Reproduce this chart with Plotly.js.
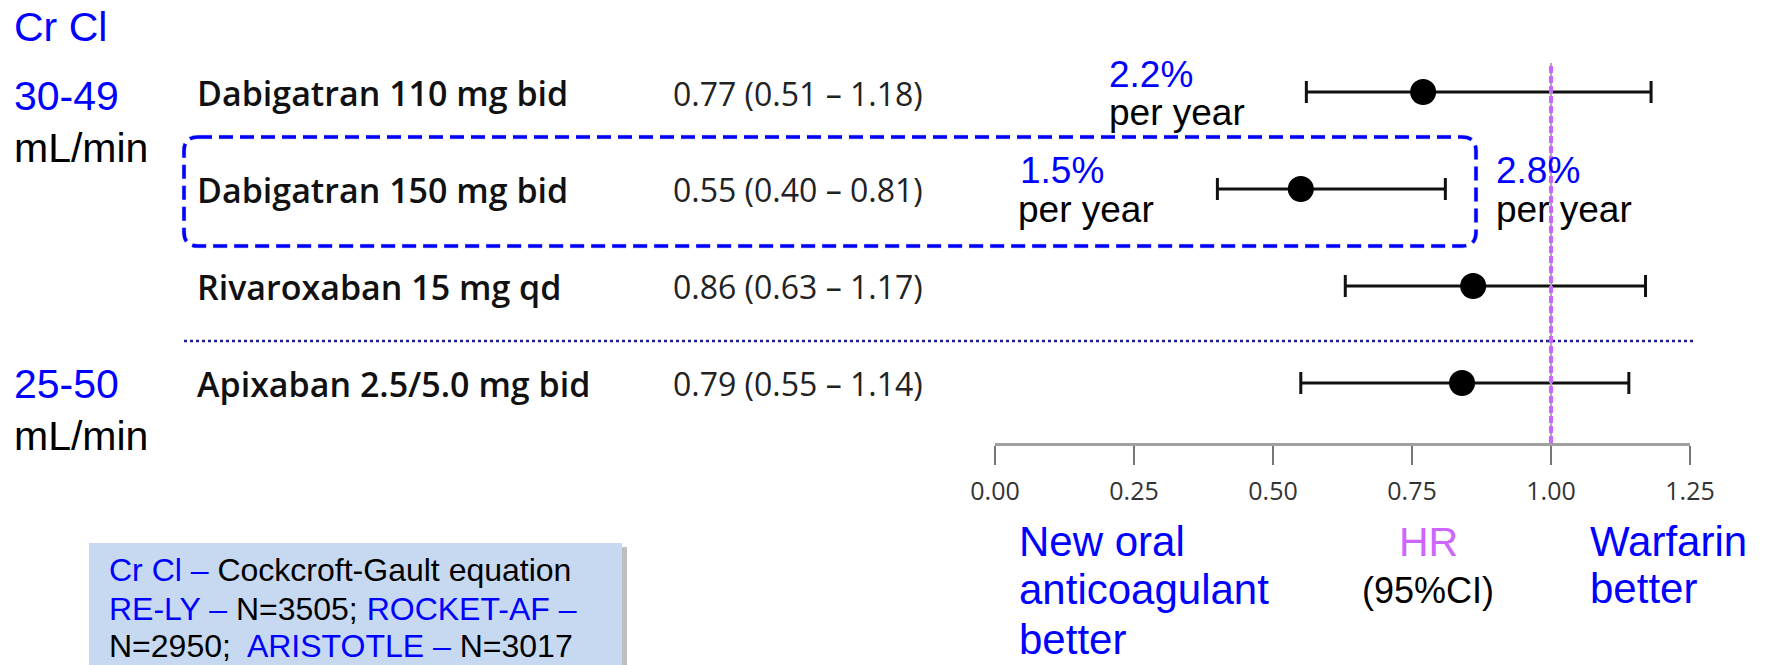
<!DOCTYPE html>
<html><head><meta charset="utf-8">
<script src="https://cdn.plot.ly/plotly-3.0.1.min.js"></script>
<style>html,body{margin:0;padding:0;background:#fff;}#chart{width:1768px;height:665px;}</style>
</head><body><div id="chart"></div>
<script>
// ---- data ----
const drugs = ['Dabigatran 110 mg bid', 'Dabigatran 150 mg bid', 'Rivaroxaban 15 mg qd', 'Apixaban 2.5/5.0 mg bid'];
const hrLabels = ['0.77 (0.51 \u2013 1.18)', '0.55 (0.40 \u2013 0.81)', '0.86 (0.63 \u2013 1.17)', '0.79 (0.55 \u2013 1.14)'];
const hr = [0.77, 0.55, 0.86, 0.84];
const ciLow = [0.56, 0.40, 0.63, 0.55];
const ciHigh = [1.18, 0.81, 1.17, 1.14];
const tickVals = [0, 0.25, 0.5, 0.75, 1.0, 1.25];
const tickText = ['0.00', '0.25', '0.50', '0.75', '1.00', '1.25'];
const rateTop = ['2.2%', 'per year'];
const rateMid = ['1.5%', 'per year'];
const rateWarf = ['2.8%', 'per year'];
const groupLabels = ['Cr Cl', '30-49', 'mL/min', '25-50', 'mL/min'];
const bottomLeft = ['New oral', 'anticoagulant', 'better'];
const bottomMid = ['HR', '(95%CI)'];
const bottomRight = ['Warfarin', 'better'];

// ---- geometry helpers ----
const W = 1768, H = 665;
const M = {l: 995, r: 78, t: 63, b: 222};
const PW = W - M.l - M.r, PH = H - M.t - M.b;
const px = v => (v - M.l) / PW;
const py = v => (H - M.b - v) / PH;
const BLUE = '#0000ff';
const ARIAL = 'Liberation Sans, Arial, sans-serif';
const OPEN = 'Open Sans, sans-serif';

function ann(text, x, base, size, color, anchor, family, asc) {
  family = family || ARIAL;
  asc = asc === undefined ? 0.3465 : asc;
  return {text: text, xref: 'paper', yref: 'paper', x: px(x), y: py(base - asc * size),
    xanchor: anchor || 'left', yanchor: 'middle', showarrow: false,
    font: {family: family, size: size, color: color}};
}

const annotations = [];
// left group labels
annotations.push(ann(groupLabels[0], 12, 41, 41, BLUE));
annotations.push(ann(groupLabels[1], 12, 110, 41, BLUE));
annotations.push(ann(groupLabels[2], 12, 162, 41, '#000'));
annotations.push(ann(groupLabels[3], 12, 398, 41, BLUE));
annotations.push(ann(groupLabels[4], 12, 450, 41, '#000'));
// row labels
drugs.forEach((d, i) => {
  annotations.push({text: d, xref: 'paper', yref: 'y', x: px(195), y: d, xanchor: 'left', yanchor: 'middle',
    yshift: -1, showarrow: false, font: {family: OPEN, size: 34, color: '#111', weight: 600}});
  annotations.push({text: hrLabels[i], xref: 'paper', yref: 'y', x: px(671), y: d, xanchor: 'left', yanchor: 'middle',
    yshift: -1, showarrow: false, font: {family: OPEN, size: 32, color: '#222'}});
});
// event rates
annotations.push(ann(rateTop[0], 1107, 87, 37, BLUE));
annotations.push(ann(rateTop[1], 1107, 125, 37, '#000'));
annotations.push(ann(rateMid[0], 1018, 183, 37, BLUE));
annotations.push(ann(rateMid[1], 1016, 222, 37, '#000'));
annotations.push(ann(rateWarf[0], 1494, 183, 37, BLUE));
annotations.push(ann(rateWarf[1], 1494, 222, 37, '#000'));
// bottom labels
annotations.push(ann(bottomLeft[0], 1017, 556, 42, BLUE));
annotations.push(ann(bottomLeft[1], 1017, 604, 42, BLUE));
annotations.push(ann(bottomLeft[2], 1017, 654, 42, BLUE));
annotations.push(ann(bottomMid[0], 1428, 556, 41, '#cc66ff', 'center'));
annotations.push(ann(bottomMid[1], 1428, 603, 36, '#000', 'center'));
annotations.push(ann(bottomRight[0], 1588, 556, 42, BLUE));
annotations.push(ann(bottomRight[1], 1588, 603, 42, BLUE));
// info box text
const sp = s => '<span style="color:#0000ff">' + s + '</span>';
annotations.push(ann(sp('Cr Cl \u2013') + ' Cockcroft-Gault equation', 107, 581, 32, '#000'));
annotations.push(ann(sp('RE-LY \u2013') + ' N=3505; ' + sp('ROCKET-AF \u2013'), 107, 620, 32, '#000'));
annotations.push(ann('N=2950;\u00a0 ' + sp('ARISTOTLE \u2013') + ' N=3017', 107, 657, 32, '#000'));

// dashed rounded box path (paper coords)
const bx0 = px(184), bx1 = px(1476), byT = py(137), byB = py(246);
const rx = 14 / PW, ry = 14 / PH;
const boxPath = `M ${bx0 + rx} ${byT} L ${bx1 - rx} ${byT} Q ${bx1} ${byT} ${bx1} ${byT - ry} L ${bx1} ${byB + ry} Q ${bx1} ${byB} ${bx1 - rx} ${byB} L ${bx0 + rx} ${byB} Q ${bx0} ${byB} ${bx0} ${byB + ry} L ${bx0} ${byT - ry} Q ${bx0} ${byT} ${bx0 + rx} ${byT} Z`;

const shapes = [
  // info box shadow + box
  {type: 'rect', xref: 'paper', yref: 'paper', x0: px(93), x1: px(627), y0: py(547), y1: py(680),
    fillcolor: 'rgba(0,0,0,0.25)', line: {width: 0}, layer: 'below'},
  {type: 'rect', xref: 'paper', yref: 'paper', x0: px(89), x1: px(622), y0: py(543), y1: py(680),
    fillcolor: '#c6d9f0', line: {width: 0}, layer: 'below'},
  // dotted separator
  {type: 'line', xref: 'paper', yref: 'paper', x0: px(184), x1: px(1695), y0: py(341), y1: py(341),
    line: {color: '#1f1f99', width: 2.5, dash: 'dot'}},
  // dashed rounded box (soft shadow + line)
  {type: 'path', xref: 'paper', yref: 'paper', path: boxPath, line: {color: 'rgba(0,0,0,0.12)', width: 5, dash: '14px,7px'}},
  {type: 'path', xref: 'paper', yref: 'paper', path: boxPath, line: {color: BLUE, width: 3.5, dash: '14px,7px'}},
  // reference line at HR = 1
  {type: 'line', xref: 'x', yref: 'paper', x0: 1, x1: 1, y0: 0, y1: 1, line: {color: '#aaaaaa', width: 2}},
  {type: 'line', xref: 'x', yref: 'paper', x0: 1, x1: 1, y0: 0, y1: 1, line: {color: '#cc66ff', width: 4, dash: '7px,3px'}}
];

const trace = {
  type: 'scatter', mode: 'markers', x: hr, y: drugs, cliponaxis: false,
  marker: {size: 26, color: '#000'},
  error_x: {type: 'data', symmetric: false,
    array: ciHigh.map((v, i) => v - hr[i]), arrayminus: ciLow.map((v, i) => hr[i] - v),
    color: '#111', thickness: 3, width: 11},
  hoverinfo: 'skip'
};

const layout = {
  width: W, height: H, margin: M, showlegend: false,
  paper_bgcolor: '#fff', plot_bgcolor: 'rgba(0,0,0,0)',
  xaxis: {range: [0, 1.25], tickvals: tickVals, ticktext: tickText, ticks: 'outside', ticklen: 19, tickwidth: 2,
    tickcolor: '#777', showline: true, linecolor: '#a0a0a0', linewidth: 3, showgrid: false, zeroline: false,
    ticklabelstandoff: 5,
    tickfont: {family: OPEN, size: 25, color: '#333'}, fixedrange: true},
  yaxis: {type: 'category', categoryarray: drugs, range: [3.619, -0.299], visible: false, fixedrange: true},
  annotations: annotations, shapes: shapes
};

Plotly.newPlot('chart', [trace], layout, {displayModeBar: false, staticPlot: true});
</script>
</body></html>
